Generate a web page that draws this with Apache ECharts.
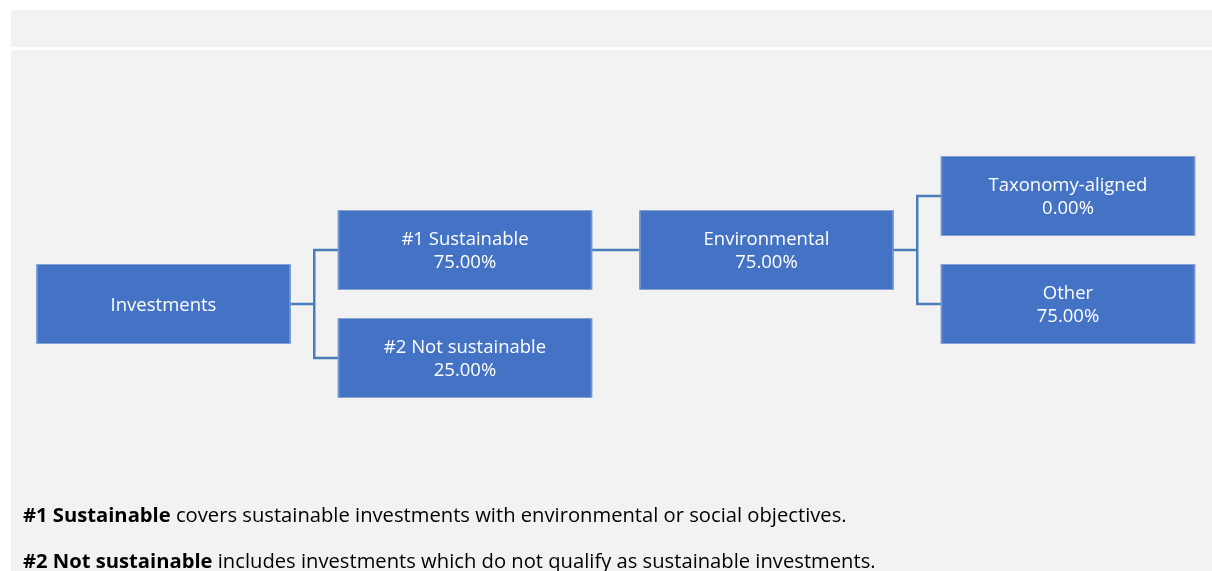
<!DOCTYPE html>
<html>
<head>
<meta charset="utf-8">
<script src="https://cdn.jsdelivr.net/npm/echarts@6/dist/echarts.min.js"></script>
<style>
html,body{margin:0;padding:0;background:#fff;}
#main{width:1212px;height:571px;}
</style>
</head>
<body>
<div id="main"></div>
<script>
// Data
const nodeNames = ['Investments', '#1 Sustainable', '#2 Not sustainable', 'Environmental', 'Taxonomy-aligned', 'Other'];
const nodeValues = [null, 75.00, 25.00, 75.00, 0.00, 75.00];
const nodeParents = [null, 0, 0, 1, 3, 3];
const noteBold = ['#1 Sustainable', '#2 Not sustainable'];
const noteText = [' covers sustainable investments with environmental or social objectives.',
                  ' includes investments which do not qualify as sustainable investments.'];

function buildTree() {
  const nodes = nodeNames.map((n, i) => ({ name: n, value: nodeValues[i], children: [] }));
  let root = null;
  nodeParents.forEach((p, i) => {
    if (p === null) root = nodes[i]; else nodes[p].children.push(nodes[i]);
  });
  return root;
}

const chart = echarts.init(document.getElementById('main'), null, { renderer: 'canvas' });
const labelCfg = {
  show: true,
  position: 'inside',
  align: 'center',
  verticalAlign: 'middle',
  offset: [0, 1.5],
  color: '#ffffff',
  fontFamily: 'Open Sans',
  fontSize: 18.5,
  lineHeight: 23,
  formatter: p => p.value == null || p.value === '' || isNaN(p.value)
    ? p.name
    : p.name + '\n' + Number(p.value).toFixed(2) + '%'
};

chart.setOption({
  animation: false,
  backgroundColor: '#ffffff',
  graphic: [
    { type: 'rect', left: 11, top: 10, shape: { width: 1201, height: 37 }, style: { fill: '#f2f2f2' }, z: -10 },
    { type: 'rect', left: 11, top: 50, shape: { width: 1201, height: 521 }, style: { fill: '#f2f2f2' }, z: -10 }
  ],
  title: noteBold.map((b, i) => ({
    text: '{b|' + b + '}{n|' + noteText[i] + '}',
    left: 23,
    top: 503 + i * 45.5,
    padding: 0,
    textStyle: {
      rich: {
        b: { fontFamily: 'Open Sans', fontSize: 20.2, fontWeight: 'bold', color: '#000000', lineHeight: 27 },
        n: { fontFamily: 'Open Sans', fontSize: 20.2, fontWeight: 'normal', color: '#000000', lineHeight: 27 }
      }
    }
  })),
  series: [{
    type: 'tree',
    data: [buildTree()],
    orient: 'LR',
    layout: 'orthogonal',
    edgeShape: 'polyline',
    edgeForkPosition: '50%',
    left: 163.5,
    right: 144,
    top: 88,
    bottom: 105,
    roam: false,
    expandAndCollapse: false,
    initialTreeDepth: -1,
    symbol: 'rect',
    symbolSize: [253, 79],
    itemStyle: { color: '#4472c4', borderColor: '#7393cf', borderWidth: 1 },
    lineStyle: { color: '#4a7ebb', width: 2.5, curveness: 0 },
    label: labelCfg,
    leaves: { label: labelCfg },
    emphasis: { disabled: true },
    silent: true
  }]
});
</script>
</body>
</html>
